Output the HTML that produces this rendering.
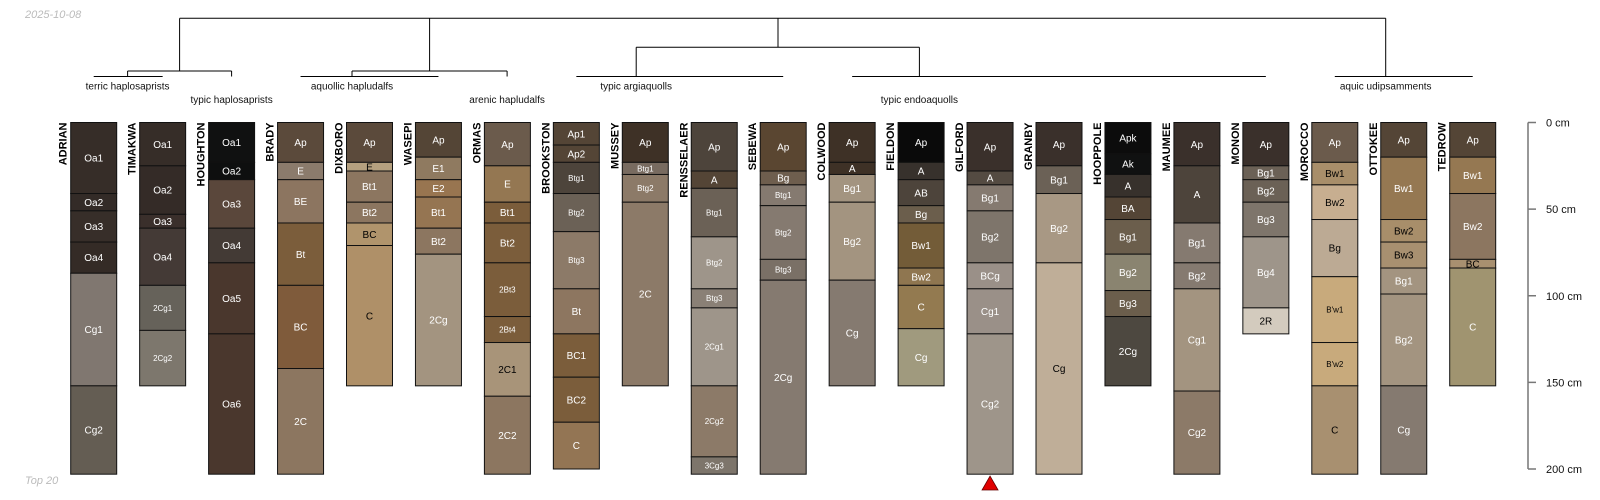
<!DOCTYPE html>
<html><head><meta charset="utf-8">
<style>
html,body{margin:0;padding:0;background:#fff;}
svg{display:block;font-family:"Liberation Sans",sans-serif;}
</style></head>
<body>
<svg id="chart" width="1600" height="500" viewBox="0 0 1600 500">
<text x="25" y="18" font-size="11" font-style="italic" fill="#bbb">2025-10-08</text>
<text x="25" y="484" font-size="11" font-style="italic" fill="#bbb">Top 20</text>
<g id="dendro"></g>
<g id="profiles"></g>
<g id="axis"></g>
</svg>
<script>
const profileNames = ["ADRIAN","TIMAKWA","HOUGHTON","BRADY","DIXBORO","WASEPI","ORMAS","BROOKSTON","MUSSEY","RENSSELAER","SEBEWA","COLWOOD","FIELDON","GILFORD","GRANBY","HOOPPOLE","MAUMEE","MONON","MOROCCO","OTTOKEE","TEDROW"];
const horizonDepths = [
 [0,41,51,69,87,152,203],
 [0,25,53,61,94,120,152],
 [0,23,33,61,81,122,203],
 [0,23,33,58,94,142,203],
 [0,23,28,46,58,71,152],
 [0,20,33,43,61,76,152],
 [0,25,46,58,81,112,127,158,203],
 [0,13,23,41,63,96,122,147,173,200],
 [0,23,30,46,152],
 [0,28,38,66,96,107,152,193,203],
 [0,28,36,48,79,91,203],
 [0,23,30,46,91,152],
 [0,23,33,48,58,84,94,119,152],
 [0,28,36,51,81,96,122,203],
 [0,25,41,81,203],
 [0,18,30,43,56,76,97,112,152],
 [0,25,58,81,96,155,203],
 [0,25,33,46,66,107,122],
 [0,23,36,56,89,127,152,203],
 [0,20,56,69,84,99,152,203],
 [0,20,41,79,84,152]
];
const horizonLabels = [
 ["Oa1","Oa2","Oa3","Oa4","Cg1","Cg2"],
 ["Oa1","Oa2","Oa3","Oa4","2Cg1","2Cg2"],
 ["Oa1","Oa2","Oa3","Oa4","Oa5","Oa6"],
 ["Ap","E","BE","Bt","BC","2C"],
 ["Ap","E","Bt1","Bt2","BC","C"],
 ["Ap","E1","E2","Bt1","Bt2","2Cg"],
 ["Ap","E","Bt1","Bt2","2Bt3","2Bt4","2C1","2C2"],
 ["Ap1","Ap2","Btg1","Btg2","Btg3","Bt","BC1","BC2","C"],
 ["Ap","Btg1","Btg2","2C"],
 ["Ap","A","Btg1","Btg2","Btg3","2Cg1","2Cg2","3Cg3"],
 ["Ap","Bg","Btg1","Btg2","Btg3","2Cg"],
 ["Ap","A","Bg1","Bg2","Cg"],
 ["Ap","A","AB","Bg","Bw1","Bw2","C","Cg"],
 ["Ap","A","Bg1","Bg2","BCg","Cg1","Cg2"],
 ["Ap","Bg1","Bg2","Cg"],
 ["Apk","Ak","A","BA","Bg1","Bg2","Bg3","2Cg"],
 ["Ap","A","Bg1","Bg2","Cg1","Cg2"],
 ["Ap","Bg1","Bg2","Bg3","Bg4","2R"],
 ["Ap","Bw1","Bw2","Bg","B'w1","B'w2","C"],
 ["Ap","Bw1","Bw2","Bw3","Bg1","Bg2","Cg"],
 ["Ap","Bw1","Bw2","BC","C"]
];
const horizonColors = [
 ["#362d28","#332b27","#372e29","#342b26","#807770","#645d53"],
 ["#362d28","#342b27","#3a2f2b","#443a36","#66625a","#7d776d"],
 ["#101111","#0e0f0f","#5a473b","#433a35","#4a372d","#4a372d"],
 ["#5b4a3b","#8b7b6c","#8c7560","#7b5d3b","#7f5b3b","#8c7660"],
 ["#5b4a3b","#b5a07f","#8c7660","#8c7660","#b0946c","#af9068"],
 ["#544536","#8f7a60","#987550","#957552","#8c7660","#a39480"],
 ["#6b5b4c","#947752","#7b5d3b","#7b5d3b","#7b5d3b","#7b5d3b","#a89479","#8c7660"],
 ["#544536","#544536","#4d443b","#6b6156","#8c7a68","#8d7660","#7b5d3b","#7b5d3b","#937554"],
 ["#3e3126","#786b60","#8c7a68","#8c7a68"],
 ["#4d443b","#544536","#6b6156","#9e958a","#8a8076","#9e958a","#8c7a68","#7d756b"],
 ["#5a4631","#6e5e4e","#857a70","#857a70","#7a7066","#857a70"],
 ["#3e3126","#3e3126","#a39480","#a39480","#857a70"],
 ["#0a0a0a","#37312c","#4d443b","#6b5e4c","#735c38","#8f7650","#937a50","#a09a7e"],
 ["#3a302b","#544b42","#857a70","#7e756b","#9a9088","#9a9088","#9e958a"],
 ["#3a302b","#6b6156","#a89884","#bfae98"],
 ["#0c0c0c","#101111","#37312c","#544536","#6b5e4c","#8a8470","#6b5e4c","#4d4840"],
 ["#3a302b","#4d443b","#857a70","#857a70","#a39480","#8c7a68"],
 ["#3a302b","#6b6156","#6b6156","#7e756b","#9e958a","#d3cbbe"],
 ["#6b5b4c","#a88e6a","#c7ae90","#bcaa94","#c8aa7c","#c8aa7c","#a89070"],
 ["#544536","#957852","#a88e6a","#a89070","#a39480","#a39480","#857a70"],
 ["#544536","#957852","#8c7660","#a89070","#a09470"]
];
const darkLabels = ["DIXBORO:E","DIXBORO:BC","DIXBORO:C","ORMAS:2C1","GRANBY:Cg","MONON:2R","MOROCCO:Bw1","MOROCCO:Bw2","MOROCCO:Bg","MOROCCO:B'w1","MOROCCO:B'w2","MOROCCO:C","OTTOKEE:Bw2","OTTOKEE:Bw3","TEDROW:BC"];
const axisTicks = [0,50,100,150,200];
const groupNames = ["terric haplosaprists","typic haplosaprists","aquollic hapludalfs","arenic hapludalfs","typic argiaquolls","typic endoaquolls","aquic udipsamments"];
const groupFirst = [0,2,3,6,7,11,18];
const groupLast = [1,2,5,6,10,17,20];

const NS="http://www.w3.org/2000/svg";
const X0=70.7, STEP=68.95, W=46, Y0=122.5, K=1.7325;
const yOf=d=>Y0+d*K;
const xOf=i=>X0+i*STEP;
const cx=i=>xOf(i)+W/2;
function mk(tag,attrs,parent){const e=document.createElementNS(NS,tag);for(const k in attrs)e.setAttribute(k,attrs[k]);parent.appendChild(e);return e;}

const pg=document.getElementById('profiles');
profileNames.forEach((name,i)=>{
  const g=mk('g',{},pg);
  
  
  const x=xOf(i), d=horizonDepths[i];
  for(let j=0;j<d.length-1;j++){
    const y1=yOf(d[j]), y2=yOf(d[j+1]);
    const r=mk('rect',{x:x,y:y1,width:W,height:y2-y1,fill:horizonColors[i][j],stroke:'#111','stroke-width':1},g);
    
    
    const lab=horizonLabels[i][j];
    const fs=lab.length>=4?8:10;
    const dark=darkLabels.indexOf(name+':'+lab)>=0;
    const t=mk('text',{x:x+W/2,y:(y1+y2)/2+fs*0.36,'font-size':fs,'text-anchor':'middle',fill:dark?'#000':'#fff'},g);
    t.textContent=lab;
    
    
  }
  const nt=mk('text',{x:0,y:0,'font-size':11,'font-weight':'bold','text-anchor':'end',transform:'translate('+(x-4)+','+(Y0)+') rotate(-90)'},g);
  nt.textContent=name;
  
  
});

// dendrogram
const dg=document.getElementById('dendro');
function ln(x1,y1,x2,y2,nm){const l=mk('line',{x1:x1,y1:y1,x2:x2,y2:y2,stroke:'#000','stroke-width':1},dg);return l;}
const LEAF=76.5;
const gVert=[127.6,231.6,352,507.1,636.2,919.4,1385.7];
groupNames.forEach((gn,k)=>{
  if(groupLast[k]>groupFirst[k]) ln(cx(groupFirst[k]),LEAF,cx(groupLast[k]),LEAF,'group-leaf-line');
  const row=(k%2===0)?0:1;
  const t=mk('text',{x:gVert[k],y:89.5+row*13.5,'font-size':10,'text-anchor':'middle',fill:'#111'},dg);
  t.textContent=gn;
  
  
});
ln(gVert[0],71,gVert[1],71,'branch'); ln(gVert[0],71,gVert[0],LEAF,'branch'); ln(gVert[1],71,gVert[1],LEAF,'branch');
ln(gVert[2],71,gVert[3],71,'branch'); ln(gVert[2],71,gVert[2],LEAF,'branch'); ln(gVert[3],71,gVert[3],LEAF,'branch');
ln(gVert[4],47.3,gVert[5],47.3,'branch'); ln(gVert[4],47.3,gVert[4],LEAF,'branch'); ln(gVert[5],47.3,gVert[5],LEAF,'branch');
const m1=179.6,m2=429.6,m3=778;
ln(m1,18.3,gVert[6],18.3,'root-branch');
ln(m1,18.3,m1,71,'branch'); ln(m2,18.3,m2,71,'branch'); ln(m3,18.3,m3,47.3,'branch'); ln(gVert[6],18.3,gVert[6],LEAF,'branch');

// axis
const ag=document.getElementById('axis');
const AX=1528;
const al=mk('line',{x1:AX,y1:yOf(axisTicks[0]),x2:AX,y2:yOf(axisTicks[axisTicks.length-1]),stroke:'#777','stroke-width':1.5},ag);


axisTicks.forEach(v=>{
  const tk=mk('line',{x1:AX,y1:yOf(v),x2:AX+8,y2:yOf(v),stroke:'#777','stroke-width':1.5},ag);
  
  
  const t=mk('text',{x:AX+18,y:yOf(v)+4,'font-size':11,fill:'#111'},ag);
  t.textContent=v+' cm';
  
  
});

const gi=profileNames.indexOf('GILFORD');
const tri=mk('polygon',{points:(cx(gi)-8)+',490 '+(cx(gi)+8)+',490 '+cx(gi)+',476',fill:'#e00000',stroke:'#600','stroke-width':0.8},pg);


</script>
</body></html>
